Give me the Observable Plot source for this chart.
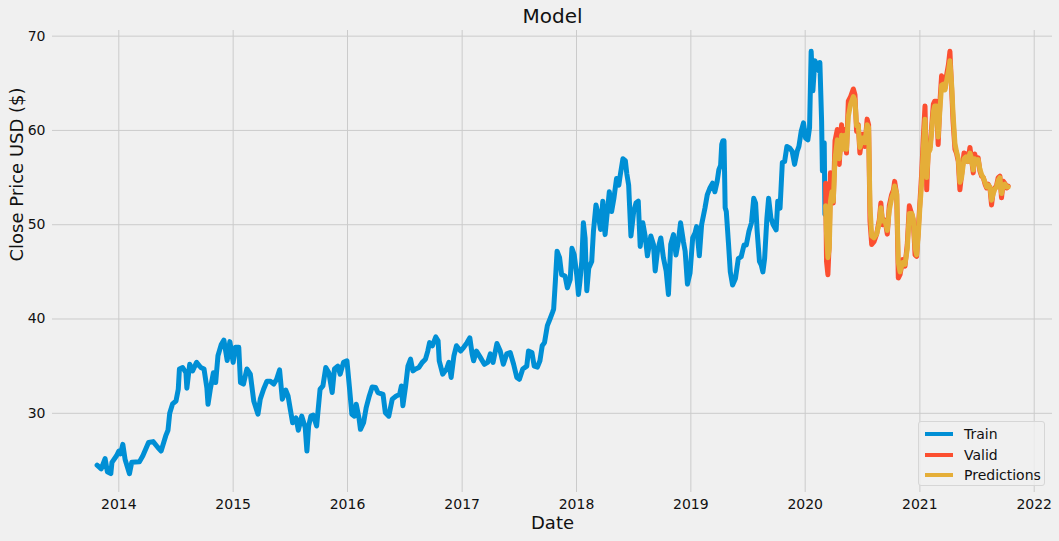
<!DOCTYPE html>
<html>
<head>
<meta charset="utf-8">
<script src="https://cdn.jsdelivr.net/npm/d3@7"></script>
<script src="https://cdn.jsdelivr.net/npm/@observablehq/plot@0.6"></script>
<style>
  html, body { margin: 0; padding: 0; background: #f0f0f0; }
  #wrap { position: relative; width: 1059px; height: 541px; font-family: "DejaVu Sans", sans-serif; }
  #legend { position: absolute; left: 918px; top: 421px; width: 127px; height: 65px; box-sizing: border-box;
            border: 1px solid #d6d6d6; border-radius: 3px; background: rgba(240,240,240,0.8); }
  .row { position: absolute; left: 0; height: 20px; width: 100%; font-size: 14px; color: #111; }
  .sw { position: absolute; left: 6px; top: 8px; width: 28px; height: 4px; }
  .lb { position: absolute; left: 45px; top: 1px; line-height: 18px; }
</style>
</head>
<body>
<div id="wrap">
  <div id="chart"></div>
  <div id="legend"></div>
</div>
<script>
// ---- data (decimal years, close price USD) ----
const trainT = [2013.81,2013.846,2013.88,2013.90,2013.93,2013.94,2013.98,2014.00,2014.015,2014.035,2014.055,2014.093,2014.113,2014.18,2014.21,2014.26,2014.30,2014.34,2014.37,2014.41,2014.43,2014.445,2014.47,2014.50,2014.52,2014.53,2014.558,2014.587,2014.595,2014.62,2014.645,2014.68,2014.717,2014.745,2014.77,2014.78,2014.80,2014.827,2014.847,2014.867,2014.896,2014.919,2014.948,2014.971,2015.00,2015.02,2015.049,2015.064,2015.09,2015.12,2015.15,2015.18,2015.217,2015.237,2015.266,2015.295,2015.325,2015.355,2015.38,2015.406,2015.43,2015.46,2015.48,2015.50,2015.52,2015.55,2015.57,2015.60,2015.63,2015.645,2015.66,2015.68,2015.70,2015.73,2015.76,2015.785,2015.81,2015.837,2015.866,2015.886,2015.915,2015.936,2015.965,2015.995,2016.017,2016.038,2016.06,2016.076,2016.10,2016.113,2016.14,2016.163,2016.19,2016.215,2016.245,2016.265,2016.31,2016.33,2016.36,2016.39,2016.425,2016.454,2016.47,2016.483,2016.507,2016.527,2016.55,2016.57,2016.594,2016.623,2016.652,2016.68,2016.70,2016.716,2016.74,2016.77,2016.79,2016.80,2016.83,2016.864,2016.884,2016.904,2016.928,2016.95,2016.986,2017.014,2017.043,2017.067,2017.087,2017.10,2017.125,2017.16,2017.194,2017.223,2017.246,2017.27,2017.304,2017.333,2017.36,2017.39,2017.42,2017.45,2017.478,2017.50,2017.53,2017.565,2017.58,2017.61,2017.63,2017.658,2017.68,2017.70,2017.72,2017.745,2017.768,2017.79,2017.80,2017.815,2017.83,2017.852,2017.87,2017.90,2017.92,2017.945,2017.96,2017.98,2018.003,2018.017,2018.03,2018.046,2018.06,2018.075,2018.09,2018.107,2018.133,2018.148,2018.17,2018.19,2018.21,2018.23,2018.25,2018.264,2018.287,2018.307,2018.327,2018.35,2018.37,2018.383,2018.406,2018.427,2018.44,2018.456,2018.476,2018.50,2018.52,2018.54,2018.557,2018.58,2018.60,2018.62,2018.65,2018.673,2018.688,2018.708,2018.737,2018.76,2018.784,2018.804,2018.824,2018.848,2018.87,2018.89,2018.91,2018.935,2018.95,2018.97,2018.993,2019.016,2019.036,2019.05,2019.074,2019.094,2019.123,2019.144,2019.167,2019.19,2019.21,2019.23,2019.245,2019.26,2019.27,2019.28,2019.29,2019.30,2019.31,2019.33,2019.345,2019.365,2019.39,2019.415,2019.44,2019.465,2019.485,2019.508,2019.53,2019.55,2019.566,2019.58,2019.60,2019.616,2019.63,2019.645,2019.665,2019.68,2019.70,2019.72,2019.746,2019.76,2019.78,2019.80,2019.82,2019.84,2019.863,2019.886,2019.907,2019.93,2019.945,2019.965,2019.985,2020.003,2020.023,2020.038,2020.052,2020.067,2020.084,2020.10,2020.12,2020.128,2020.143,2020.15,2020.166,2020.172];
const trainV = [24.5,24.1,25.2,23.8,23.6,24.8,25.5,26.0,25.7,26.7,25.1,23.6,24.8,24.85,25.5,26.9,27.0,26.4,26.0,27.6,28.2,30.0,31.0,31.3,32.55,34.7,34.86,34.3,32.66,35.2,34.5,35.4,34.86,34.7,32.7,30.96,32.55,34.3,33.26,36.1,37.3,37.77,35.6,37.6,35.4,37.0,37.0,33.26,33.1,34.7,34.15,31.3,29.9,31.5,32.55,33.4,33.4,33.1,33.6,34.6,31.5,32.45,31.84,30.4,29.0,29.5,28.2,29.7,28.5,26.0,28.65,29.7,29.8,28.65,32.55,32.9,34.86,34.3,32.2,34.7,35.0,34.15,35.4,35.57,32.73,29.9,29.7,30.96,29.5,28.3,29.0,30.6,31.84,32.8,32.73,32.2,32.0,30.07,29.7,31.5,31.84,32.0,32.9,30.8,32.9,35.0,35.74,34.5,34.7,34.86,35.4,35.74,36.6,37.5,37.16,38.1,37.7,35.57,34.15,34.7,35.4,33.8,36.1,37.16,36.6,37.0,37.5,38.0,36.3,35.57,36.6,35.9,35.2,35.4,36.3,35.4,37.4,36.6,35.2,36.3,36.45,35.2,33.8,33.6,34.7,35.0,36.6,36.45,35.0,34.9,35.57,37.16,37.5,39.3,40.0,40.7,41.05,44.0,47.2,46.5,44.7,44.56,43.3,44.2,47.5,46.8,44.56,42.6,44.0,46.1,50.2,48.6,43.0,45.4,46.1,49.3,52.1,51.05,49.5,52.5,48.95,50.7,53.5,51.4,52.8,54.9,54.2,55.3,57.0,56.8,55.4,54.2,48.8,51.4,52.3,52.5,47.7,50.2,48.8,46.7,48.8,47.9,45.1,47.2,48.6,46.5,45.1,42.6,47.9,48.95,46.8,48.2,50.2,48.2,47.2,43.7,44.9,48.6,49.1,49.8,46.7,50.0,51.75,53.2,53.9,54.4,53.5,54.6,55.85,56.3,58.5,58.9,58.9,51.8,51.4,47.85,45.0,43.6,44.3,46.4,46.6,47.85,47.85,49.3,50.2,52.8,52.3,49.3,46.1,45.7,45.0,46.4,50.7,52.8,50.7,50.0,49.45,52.5,51.75,56.6,56.7,58.3,58.15,57.8,56.4,57.8,58.3,59.9,60.8,59.2,59.0,60.3,68.4,64.2,67.4,67.0,66.3,67.2,61.0,55.7,58.7,51.1];

const validT = [2020.178,2020.186,2020.198,2020.21,2020.22,2020.233,2020.245,2020.26,2020.28,2020.297,2020.317,2020.33,2020.346,2020.36,2020.376,2020.396,2020.42,2020.434,2020.448,2020.463,2020.477,2020.50,2020.52,2020.54,2020.553,2020.565,2020.58,2020.60,2020.623,2020.646,2020.66,2020.675,2020.696,2020.716,2020.733,2020.754,2020.77,2020.78,2020.798,2020.812,2020.827,2020.85,2020.87,2020.89,2020.908,2020.93,2020.943,2020.958,2020.972,2020.987,2021.0,2021.016,2021.03,2021.045,2021.06,2021.074,2021.09,2021.10,2021.118,2021.13,2021.146,2021.16,2021.176,2021.19,2021.205,2021.22,2021.233,2021.25,2021.263,2021.28,2021.29,2021.307,2021.32,2021.336,2021.35,2021.365,2021.386,2021.403,2021.42,2021.438,2021.45,2021.467,2021.48,2021.496,2021.51,2021.525,2021.54,2021.555,2021.57,2021.584,2021.598,2021.613,2021.627,2021.642,2021.656,2021.67,2021.685,2021.70,2021.714,2021.73,2021.743,2021.76,2021.772];
const validV = [54.4,46.1,44.7,48.2,55.5,54.6,52.3,58.9,60.1,56.4,60.6,58.2,60.1,57.6,63.1,63.6,64.4,63.8,59.9,60.6,57.6,59.6,58.3,61.2,60.6,50.4,47.9,48.2,49.0,50.5,52.3,50.0,50.5,49.0,52.0,53.2,53.7,54.6,53.2,44.35,44.7,46.3,45.6,47.9,52.0,51.1,50.4,46.8,46.65,49.7,52.3,55.5,59.2,62.6,53.7,58.2,58.3,59.9,62.8,63.1,63.1,58.5,63.1,65.8,65.4,64.5,65.8,67.0,68.4,63.8,61.0,58.0,57.6,56.7,53.7,55.3,57.6,57.5,56.7,58.2,57.1,55.5,57.5,56.7,57.1,55.7,55.15,55.0,54.3,53.9,54.3,53.9,52.1,53.6,53.9,54.1,55.0,55.15,52.85,54.6,54.4,53.9,54.1];
const predV = [52.0,49.0,46.5,47.5,52.5,53.5,52.5,57.0,59.0,57.0,59.5,58.0,59.5,58.0,61.5,62.8,63.6,63.2,60.5,60.5,58.2,59.2,58.7,60.6,60.3,52.0,48.8,48.6,49.0,50.2,51.8,50.4,50.4,49.4,51.5,52.8,53.4,54.1,53.3,46.0,45.0,46.0,45.8,47.4,51.2,51.2,50.6,47.6,46.8,49.0,51.8,54.5,58.0,61.2,55.0,57.6,58.0,59.4,62.0,62.6,62.6,59.3,62.3,64.8,64.9,64.3,65.2,66.3,67.4,64.5,61.8,58.6,57.8,57.0,54.5,55.0,57.0,57.2,56.7,57.6,57.1,55.8,57.0,56.6,56.9,55.9,55.3,55.0,54.5,54.0,54.2,54.0,52.6,53.3,53.8,54.0,54.7,55.0,53.3,54.2,54.3,54.0,54.0];

const yearTicks = [2014,2015,2016,2017,2018,2019,2020,2021,2022];
const priceTicks = [30,40,50,60,70];
const seriesNames = ["Train","Valid","Predictions"];
const seriesColors = ["#008fd5","#fc4f30","#e5ae38"];

// ---- helpers ----
const toDate = t => { const y = Math.floor(t); const a = Date.UTC(y,0,1), b = Date.UTC(y+1,0,1); return new Date(a + (t - y) * (b - a)); };
const train = trainT.map((t,i) => ({date: toDate(t), value: trainV[i]}));
const valid = validT.map((t,i) => ({date: toDate(t), value: validV[i]}));
const pred  = validT.map((t,i) => ({date: toDate(t), value: predV[i]}));
const xTicks = yearTicks.map(y => new Date(Date.UTC(y,0,1)));

const lineStyle = {x: "date", y: "value", strokeWidth: 5, strokeLinejoin: "round", strokeLinecap: "round"};

const chart = Plot.plot({
  width: 1059,
  height: 541,
  marginTop: 30, marginRight: 7, marginBottom: 49, marginLeft: 52,
  style: {background: "#f0f0f0", fontFamily: "DejaVu Sans, sans-serif", color: "#111", overflow: "visible"},
  x: {type: "utc", domain: [toDate(2013.42), toDate(2022.16)], axis: null},
  y: {domain: [21.6, 70.6], axis: null},
  marks: [
    Plot.gridX(xTicks, {stroke: "#cbcbcb", strokeOpacity: 1, strokeWidth: 1}),
    Plot.gridY(priceTicks, {stroke: "#cbcbcb", strokeOpacity: 1, strokeWidth: 1}),
    Plot.axisX(xTicks, {tickSize: 0, tickPadding: 7, fontSize: 14, tickFormat: d3.utcFormat("%Y"), label: null, fill: "#111"}),
    Plot.axisY(priceTicks, {tickSize: 0, tickPadding: 7, fontSize: 14, label: null, fill: "#111"}),
    Plot.lineY(train, {...lineStyle, stroke: seriesColors[0]}),
    Plot.lineY(valid, {...lineStyle, stroke: seriesColors[1]}),
    Plot.lineY(pred,  {...lineStyle, stroke: seriesColors[2]}),
    Plot.text(["Model"], {frameAnchor: "top", lineAnchor: "middle", dy: -14, fontSize: 20, fill: "#111"}),
    Plot.text(["Date"], {frameAnchor: "bottom", lineAnchor: "middle", dy: 31, fontSize: 18, fill: "#111"}),
    Plot.text(["Close Price USD ($)"], {frameAnchor: "left", lineAnchor: "middle", dx: -35, rotate: -90, fontSize: 18, fill: "#111"})
  ]
});
document.getElementById("chart").appendChild(chart);

const legend = document.getElementById("legend");
seriesNames.forEach((name, i) => {
  const row = document.createElement("div");
  row.className = "row";
  row.style.top = (2 + i * 20.5) + "px";
  row.innerHTML = `<span class="sw" style="background:${seriesColors[i]}"></span><span class="lb">${name}</span>`;
  legend.appendChild(row);
});
</script>
</body>
</html>
